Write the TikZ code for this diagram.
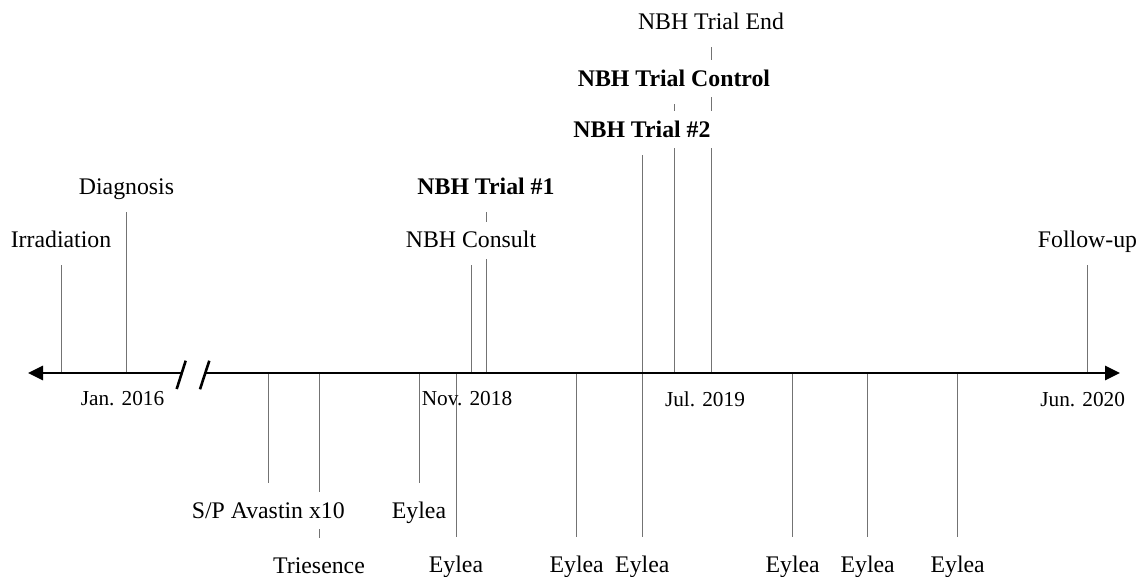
\documentclass[tikz,border=0pt]{standalone}
\usepackage{fontspec}
\setmainfont{Liberation Serif}
\usetikzlibrary{arrows.meta,backgrounds}
\begin{document}
\begin{tikzpicture}[x=0.5pt,y=-0.5pt,
  lbl/.style={font=\fontsize{11.9}{14}\selectfont, fill=white, inner xsep=2pt, inner ysep=3.2pt, text height=9.8pt, text depth=2.2pt, anchor=base},
  blbl/.style={lbl, font=\fontsize{11.9}{14}\selectfont\bfseries},
  datelbl/.style={font=\fontsize{10.65}{13}\selectfont, inner sep=0pt, anchor=base},
  evline/.style={draw=black!55, line width=0.5pt},
  upline/.style={evline, shorten >=3pt},
  downline/.style={evline, shorten >=4.5pt},
  axisline/.style={line width=1.3pt, -{Triangle[length=7.5pt,width=7pt]}},
  brk/.style={line width=1.3pt}]
\useasboundingbox (0,0) rectangle (1147,577);

% axis coordinates
\coordinate (Lend) at (28,373);
\coordinate (Rend) at (1120,373);
\coordinate (B1) at (181,373);
\coordinate (B2) at (205,373);
\coordinate (b1t) at (185.7,360.7);
\coordinate (b1b) at (176.7,389);
\coordinate (b2t) at (209.3,360.7);
\coordinate (b2b) at (200,389.3);

% event points on axis (top)
\coordinate (pIrr) at (61,373);
\coordinate (pDiag) at (126.5,373);
\coordinate (pCons) at (471,373);
\coordinate (pT1) at (486.5,373);
\coordinate (pT2) at (642.3,373);
\coordinate (pCtrl) at (674,373);
\coordinate (pEnd) at (711,373);
\coordinate (pFup) at (1087.7,373);
% event points on axis (bottom)
\coordinate (pSP) at (268.3,373);
\coordinate (pTri) at (319,373);
\coordinate (pE1) at (419,373);
\coordinate (pE2) at (456,373);
\coordinate (pE3) at (576.7,373);
\coordinate (pE4) at (642.3,373);
\coordinate (pE5) at (792.7,373);
\coordinate (pE6) at (867.7,373);
\coordinate (pE7) at (957.7,373);

% top labels
\node[lbl] (irr) at (61,248) {Irradiation};
\node[lbl] (diag) at (126.5,195) {Diagnosis};
\node[lbl] (cons) at (471,248) {NBH Consult};
\node[blbl] (t1) at (486,194.5) {NBH Trial \#1};
\node[blbl] (t2) at (642,137.5) {NBH Trial \#2};
\node[blbl] (ctrl) at (674,86.5) {NBH Trial Control};
\node[lbl] (tend) at (711,30) {NBH Trial End};
\node[lbl] (fup) at (1087.5,248) {Follow-up};

% bottom labels
\node[lbl] (sp) at (268.3,518) {S/P Avastin x10};
\node[lbl] (tri) at (319,573) {Triesence};
\node[lbl] (e1) at (419,518) {Eylea};
\node[lbl] (e2) at (456,572.5) {Eylea};
\node[lbl] (e3) at (576.7,572.5) {Eylea};
\node[lbl] (e4) at (642.3,572.5) {Eylea};
\node[lbl] (e5) at (792.7,572.5) {Eylea};
\node[lbl] (e6) at (867.7,572.5) {Eylea};
\node[lbl] (e7) at (957.7,572.5) {Eylea};

% date labels
\node[datelbl] (d1) at (122.5,406) {Jan. 2016};
\node[datelbl] (d2) at (467,406) {Nov. 2018};
\node[datelbl] (d3) at (705,407) {Jul. 2019};
\node[datelbl] (d4) at (1082.7,406.5) {Jun. 2020};

\begin{pgfonlayer}{background}
  \draw[upline] (pIrr) -- (pIrr |- irr.south);
  \draw[upline] (pDiag) -- (pDiag |- diag.south);
  \draw[upline] (pCons) -- (pCons |- cons.south);
  \draw[upline] (pT1) -- (pT1 |- t1.south);
  \draw[upline] (pT2) -- (pT2 |- t2.south);
  \draw[upline] (pCtrl) -- (pCtrl |- ctrl.south);
  \draw[upline] (pEnd) -- (pEnd |- tend.south);
  \draw[upline] (pFup) -- (pFup |- fup.south);
  \draw[downline] (pSP) -- (pSP |- sp.north);
  \draw[downline] (pTri) -- (pTri |- tri.north);
  \draw[downline] (pE1) -- (pE1 |- e1.north);
  \draw[downline] (pE2) -- (pE2 |- e2.north);
  \draw[downline] (pE3) -- (pE3 |- e3.north);
  \draw[downline] (pE4) -- (pE4 |- e4.north);
  \draw[downline] (pE5) -- (pE5 |- e5.north);
  \draw[downline] (pE6) -- (pE6 |- e6.north);
  \draw[downline] (pE7) -- (pE7 |- e7.north);
\end{pgfonlayer}

% axis
\draw[axisline] (B1) -- (Lend);
\draw[axisline] (B2) -- (Rend);
\draw[brk] (b1b) -- (b1t);
\draw[brk] (b2b) -- (b2t);
\end{tikzpicture}
\end{document}
